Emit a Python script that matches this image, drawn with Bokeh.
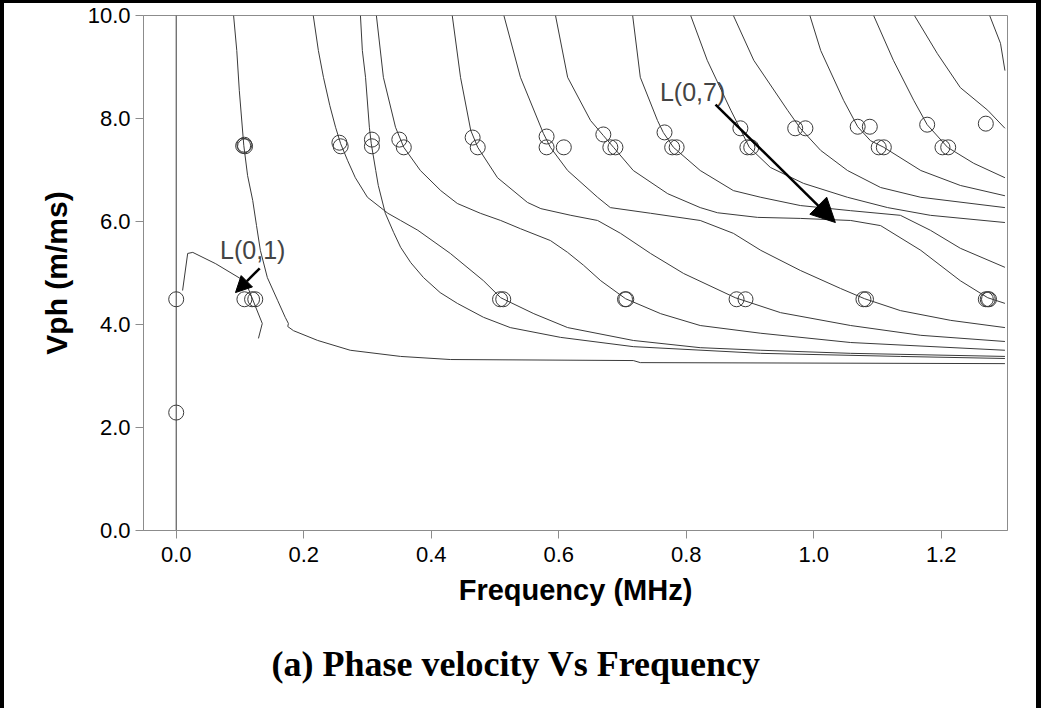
from bokeh.plotting import figure
from bokeh.models import Range1d, Arrow, NormalHead, Label, FixedTicker, NumeralTickFormatter, Title
from bokeh.embed import file_html
from bokeh.resources import INLINE

# ---------------- data (Frequency in MHz, Vph in m/ms) ----------------
x_ticks = [0.0, 0.2, 0.4, 0.6, 0.8, 1.0, 1.2]
y_ticks = [0.0, 2.0, 4.0, 6.0, 8.0, 10.0]

axis_f = [0.0, 0.0]
axis_v = [0.0, 10.0]

l01_f = [0.010, 0.018, 0.026, 0.062, 0.101, 0.113, 0.135, 0.129]
l01_v = [4.66, 5.38, 5.40, 5.18, 4.89, 4.70, 4.02, 3.73]

l02_f = [0.090, 0.095, 0.099, 0.106, 0.112, 0.120, 0.126, 0.132, 0.143, 0.159, 0.171,
         0.176, 0.175, 0.184, 0.222, 0.273, 0.352, 0.430, 0.717, 0.728, 1.30]
l02_v = [10.0, 9.32, 8.54, 7.48, 6.89, 6.41, 5.92, 5.44, 4.91, 4.47, 4.14,
         4.02, 3.96, 3.88, 3.69, 3.50, 3.38, 3.32, 3.30, 3.26, 3.24]

l03_f = [0.215, 0.223, 0.231, 0.241, 0.250, 0.258, 0.269, 0.281, 0.300, 0.332, 0.352,
         0.379, 0.430, 0.482, 0.509, 0.561, 0.614, 0.717, 0.822, 0.917, 1.058, 1.30]
l03_v = [10.0, 9.32, 8.80, 8.25, 7.83, 7.51, 7.18, 6.85, 6.47, 6.16, 6.02,
         5.83, 5.38, 4.85, 4.52, 4.21, 3.94, 3.69, 3.55, 3.50, 3.44, 3.38]

m04_f = [0.289, 0.292, 0.297, 0.303, 0.306, 0.313, 0.317, 0.328, 0.341, 0.352, 0.368,
         0.388, 0.414, 0.441, 0.482, 0.524, 0.603, 0.717, 0.917, 1.136, 1.30]
m04_v = [10.0, 9.32, 8.80, 7.83, 7.51, 6.99, 6.70, 6.16, 5.79, 5.50, 5.20,
         4.91, 4.62, 4.41, 4.14, 3.94, 3.75, 3.57, 3.44, 3.38, 3.34]

l04_f = [0.314, 0.325, 0.344, 0.357, 0.383, 0.415, 0.441, 0.477, 0.509, 0.540, 0.587,
         0.614, 0.639, 0.666, 0.705, 0.760, 0.822, 0.917, 1.058, 1.30]
l04_v = [10.0, 8.80, 7.83, 7.44, 6.99, 6.60, 6.35, 6.16, 6.02, 5.86, 5.63,
         5.40, 5.15, 4.85, 4.50, 4.21, 3.98, 3.83, 3.65, 3.50]

l05_f = [0.433, 0.446, 0.462, 0.473, 0.504, 0.551, 0.572, 0.619, 0.661, 0.697, 0.744,
         0.796, 0.877, 0.948, 1.058, 1.168, 1.30]
l05_v = [10.0, 8.80, 7.77, 7.44, 6.85, 6.37, 6.25, 6.12, 6.02, 5.77, 5.38,
         4.99, 4.52, 4.23, 3.98, 3.79, 3.67]

l06_f = [0.514, 0.540, 0.576, 0.587, 0.614, 0.661, 0.681, 0.744, 0.822, 0.874, 0.917,
         0.979, 1.042, 1.080, 1.136, 1.215, 1.30]
l06_v = [10.0, 8.80, 7.71, 7.44, 6.99, 6.47, 6.27, 6.16, 6.02, 5.77, 5.44,
         5.05, 4.70, 4.50, 4.27, 4.08, 3.94]

l07_f = [0.595, 0.614, 0.650, 0.670, 0.686, 0.717, 0.771, 0.822, 0.849, 0.912, 0.979,
         1.058, 1.105, 1.168, 1.230, 1.273, 1.30]
l07_v = [10.0, 8.80, 7.96, 7.67, 7.44, 6.99, 6.54, 6.27, 6.17, 6.08, 6.06,
         6.02, 5.92, 5.44, 4.85, 4.52, 4.41]

l08_f = [0.716, 0.728, 0.755, 0.764, 0.780, 0.822, 0.874, 0.917, 0.979, 1.058, 1.136,
         1.183, 1.230, 1.30]
l08_v = [10.0, 8.80, 7.96, 7.73, 7.44, 6.99, 6.60, 6.47, 6.31, 6.21, 6.12,
         5.83, 5.48, 5.11]

l09_f = [0.807, 0.833, 0.870, 0.885, 0.899, 0.932, 0.984, 1.053, 1.116, 1.183, 1.30]
l09_v = [10.0, 9.13, 8.16, 7.79, 7.44, 7.05, 6.74, 6.47, 6.27, 6.12, 5.98]

l10_f = [0.874, 0.906, 0.959, 0.979, 1.011, 1.053, 1.105, 1.168, 1.30]
l10_v = [10.0, 9.13, 8.16, 7.81, 7.38, 6.99, 6.66, 6.47, 6.27]

l11_f = [0.994, 1.011, 1.047, 1.069, 1.089, 1.110, 1.168, 1.230, 1.30]
l11_v = [10.0, 9.32, 8.35, 7.84, 7.57, 7.44, 6.99, 6.70, 6.50]

l12_f = [1.094, 1.125, 1.157, 1.178, 1.210, 1.251, 1.30]
l12_v = [10.0, 9.13, 8.35, 7.88, 7.44, 7.13, 6.85]

l13_f = [1.158, 1.194, 1.230, 1.273, 1.30]
l13_v = [10.0, 9.26, 8.60, 8.16, 7.81]

l14_f = [1.276, 1.293, 1.30]
l14_v = [10.0, 9.46, 8.93]

# measured points (open circles)
pts_f = [0.105, 0.107, 0.108, 0.256, 0.258, 0.307, 0.307, 0.350, 0.357, 0.465, 0.473,
         0.581, 0.581, 0.608, 0.670, 0.681, 0.689, 0.766, 0.778, 0.785, 0.885, 0.896,
         0.902, 0.971, 0.987, 1.069, 1.088, 1.102, 1.110, 1.178, 1.202, 1.211, 1.270,
         0.0, 0.0, 0.107, 0.119, 0.124, 0.508, 0.513, 0.704, 0.706, 0.879, 0.893,
         1.078, 1.082, 1.270, 1.273, 1.275]
pts_v = [7.47, 7.49, 7.46, 7.53, 7.46, 7.59, 7.46, 7.59, 7.44, 7.63, 7.44,
         7.65, 7.44, 7.44, 7.69, 7.44, 7.44, 7.73, 7.44, 7.44, 7.81, 7.44,
         7.44, 7.81, 7.81, 7.84, 7.84, 7.44, 7.44, 7.88, 7.44, 7.44, 7.90,
         4.49, 2.29, 4.49, 4.49, 4.49, 4.49, 4.49, 4.49, 4.49, 4.49, 4.49,
         4.49, 4.49, 4.49, 4.49, 4.49]

curves = [(axis_f, axis_v), (l01_f, l01_v), (l02_f, l02_v), (l03_f, l03_v), (m04_f, m04_v),
          (l04_f, l04_v), (l05_f, l05_v), (l06_f, l06_v), (l07_f, l07_v), (l08_f, l08_v),
          (l09_f, l09_v), (l10_f, l10_v), (l11_f, l11_v), (l12_f, l12_v), (l13_f, l13_v),
          (l14_f, l14_v)]

caption = "(a) Phase velocity Vs Frequency"

# ---------------- figure ----------------
p = figure(width=1041, height=708, output_backend="svg", toolbar_location=None,
           x_range=Range1d(-0.0513, 1.304), y_range=Range1d(0, 10),
           min_border_left=143, min_border_right=34, min_border_top=15, min_border_bottom=178)
p.styles = {"box-shadow": "inset 4px 3px 0 0 #000000, inset -5px 0 0 0 #000000"}
p.border_fill_color = None
p.background_fill_color = "white"
p.outline_line_color = "#8c8c8c"
p.xgrid.visible = False
p.ygrid.visible = False

for ax in (p.xaxis[0], p.yaxis[0]):
    ax.axis_line_color = "#8c8c8c"
    ax.major_tick_line_color = "#8c8c8c"
    ax.major_tick_out = 8
    ax.major_tick_in = 0
    ax.minor_tick_line_color = None
    ax.major_label_text_font = "Liberation Sans"
    ax.major_label_text_font_size = "22px"
    ax.major_label_text_color = "black"
    ax.axis_label_text_font = "Liberation Sans"
    ax.axis_label_text_font_style = "bold"
    ax.axis_label_text_color = "black"
    ax.formatter = NumeralTickFormatter(format="0.0")

p.xaxis.ticker = FixedTicker(ticks=x_ticks)
p.yaxis.ticker = FixedTicker(ticks=y_ticks)
p.xaxis.axis_label = "Frequency (MHz)"
p.yaxis.axis_label = "Vph (m/ms)"
p.xaxis.axis_label_text_font_size = "29px"
p.yaxis.axis_label_text_font_size = "30px"
p.xaxis.major_label_standoff = 8
p.yaxis.major_label_standoff = 5
p.xaxis.axis_label_standoff = 9
p.yaxis.axis_label_standoff = 12

for fx, vy in curves:
    p.line(fx, vy, line_color="#3a3a3a", line_width=1)

p.scatter(pts_f, pts_v, marker="circle", size=15, fill_color=None,
          line_color="#3a3a3a", line_width=1)

# annotations
p.add_layout(Label(x=0.120, y=5.44, text="L(0,1)", text_font="Liberation Sans",
                   text_font_size="25px", text_align="center", text_baseline="middle"))
p.add_layout(Label(x=0.810, y=8.52, text="L(0,7)", text_font="Liberation Sans",
                   text_font_size="25px", text_align="center", text_baseline="middle"))
p.add_layout(Arrow(x_start=0.131, y_start=5.09, x_end=0.093, y_end=4.62, line_width=2.5,
                   line_color="black",
                   end=NormalHead(size=16, fill_color="black", line_color="black")))
p.add_layout(Arrow(x_start=0.846, y_start=8.27, x_end=1.034, y_end=5.98, line_width=2.5,
                   line_color="black",
                   end=NormalHead(size=24, fill_color="black", line_color="black")))

# caption below the x axis (spacer + caption title)
p.add_layout(Title(text=" ", text_font_size="14px"), "below")
p.add_layout(Title(text=caption, text_font="Liberation Serif", text_font_style="bold",
                   text_font_size="36px", align="left", offset=128,
                   text_color="black"), "below")

open("out.html", "w").write(file_html(p, INLINE))
